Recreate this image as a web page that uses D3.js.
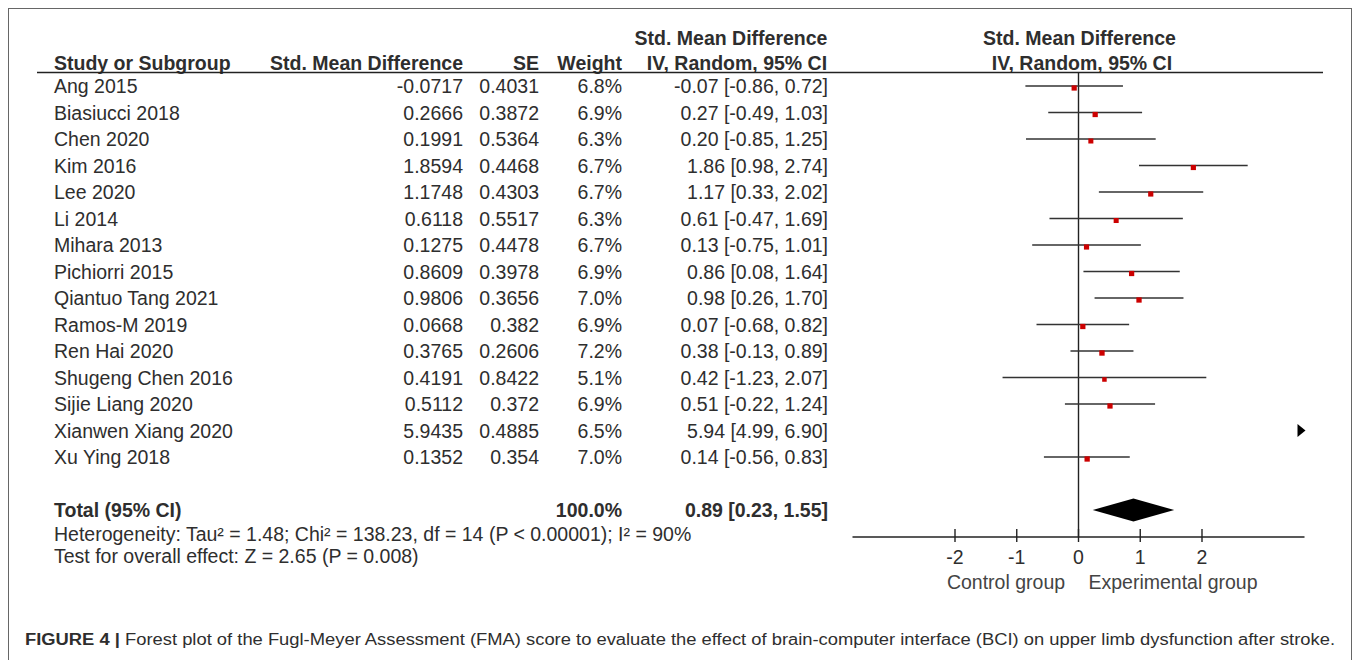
<!DOCTYPE html>
<html><head><meta charset="utf-8">
<script src="https://cdnjs.cloudflare.com/ajax/libs/d3/7.8.5/d3.min.js"></script>
<style>
html,body{margin:0;padding:0;background:#fff;}
svg{display:block;font-family:"Liberation Sans",Arial,sans-serif;}
</style></head>
<body><svg id="c" width="1357" height="660"></svg>
<script>
const studies = ["Ang 2015","Biasiucci 2018","Chen 2020","Kim 2016","Lee 2020","Li 2014","Mihara 2013","Pichiorri 2015","Qiantuo Tang 2021","Ramos-M 2019","Ren Hai 2020","Shugeng Chen 2016","Sijie Liang 2020","Xianwen Xiang 2020","Xu Ying 2018"];
const smd = [-0.0717, 0.2666, 0.1991, 1.8594, 1.1748, 0.6118, 0.1275, 0.8609, 0.9806, 0.0668, 0.3765, 0.4191, 0.5112, 5.9435, 0.1352];
const se = [0.4031, 0.3872, 0.5364, 0.4468, 0.4303, 0.5517, 0.4478, 0.3978, 0.3656, 0.382, 0.2606, 0.8422, 0.372, 0.4885, 0.354];
const weights = [6.8, 6.9, 6.3, 6.7, 6.7, 6.3, 6.7, 6.9, 7.0, 6.9, 7.2, 5.1, 6.9, 6.5, 7.0];
const est = [-0.07, 0.27, 0.20, 1.86, 1.17, 0.61, 0.13, 0.86, 0.98, 0.07, 0.38, 0.42, 0.51, 5.94, 0.14];
const lo = [-0.86, -0.49, -0.85, 0.98, 0.33, -0.47, -0.75, 0.08, 0.26, -0.68, -0.13, -1.23, -0.22, 4.99, -0.56];
const hi = [0.72, 1.03, 1.25, 2.74, 2.02, 1.69, 1.01, 1.64, 1.70, 0.82, 0.89, 2.07, 1.24, 6.90, 0.83];
const total = {weight: 100.0, est: 0.89, lo: 0.23, hi: 1.55};
const tickValues = [-2, -1, 0, 1, 2];
const headerRow1 = "Std. Mean Difference";
const headerRow2 = ["Study or Subgroup", "Std. Mean Difference", "SE", "Weight", "IV, Random, 95% CI"];
const heterogeneity = "Heterogeneity: Tau\u00b2 = 1.48; Chi\u00b2 = 138.23, df = 14 (P < 0.00001); I\u00b2 = 90%";
const overallTest = "Test for overall effect: Z = 2.65 (P = 0.008)";
const axisLabels = ["Control group", "Experimental group"];
const captionBold = "FIGURE 4 |";
const captionText = " Forest plot of the Fugl-Meyer Assessment (FMA) score to evaluate the effect of brain-computer interface (BCI) on upper limb dysfunction after stroke.";

const svg = d3.select("#c");
const ink = "#2e2e2e";
const fs = 19.5;

// frame
svg.append("rect").attr("x", 8.5).attr("y", 8.5).attr("width", 1343).attr("height", 700)
  .attr("fill", "none").attr("stroke", "#666").attr("stroke-width", 1);

const x = d3.scaleLinear().domain([-3.66, 3.66]).range([852.5, 1304.5]);
const y = d3.scalePoint().domain(studies).range([86, 457]);
const yTotal = 510, yHet = 533.5, yTest = 556, axisY = 537;
const base = 7; // baseline offset from row center

const cols = {name: 54, smd: 463, se: 539, w: 622, ci: 828};

function txt(g, t, xx, yy, anchor, bold, size) {
  return g.append("text").attr("x", xx).attr("y", yy).attr("text-anchor", anchor || "start")
    .attr("font-size", size || fs).attr("font-weight", bold ? "bold" : "normal").attr("fill", ink).text(t);
}

// headers
const H = svg.append("g");
txt(H, headerRow1, 731, 45, "middle", true);
txt(H, headerRow1, 1079.5, 45, "middle", true);
txt(H, headerRow2[0], cols.name, 70, "start", true);
txt(H, headerRow2[1], cols.smd, 70, "end", true);
txt(H, headerRow2[2], cols.se, 70, "end", true);
txt(H, headerRow2[3], cols.w, 70, "end", true);
txt(H, headerRow2[4], 737, 70, "middle", true);
txt(H, headerRow2[4], 1082, 70, "middle", true);
H.append("line").attr("x1", 37).attr("x2", 1323).attr("y1", 72.5).attr("y2", 72.5)
  .attr("stroke", "#222").attr("stroke-width", 1.3);

// table rows
const R = svg.append("g");
studies.forEach((s, i) => {
  const yy = y(s) + base;
  txt(R, s, cols.name, yy, "start");
  txt(R, String(smd[i]), cols.smd, yy, "end");
  txt(R, String(se[i]), cols.se, yy, "end");
  txt(R, weights[i].toFixed(1) + "%", cols.w, yy, "end");
  txt(R, est[i].toFixed(2) + " [" + lo[i].toFixed(2) + ", " + hi[i].toFixed(2) + "]", cols.ci, yy, "end");
});
txt(R, "Total (95% CI)", cols.name, yTotal + base, "start", true);
txt(R, total.weight.toFixed(1) + "%", cols.w, yTotal + base, "end", true);
txt(R, total.est.toFixed(2) + " [" + total.lo.toFixed(2) + ", " + total.hi.toFixed(2) + "]", cols.ci, yTotal + base, "end", true);
txt(R, heterogeneity, cols.name, yHet + base, "start");
txt(R, overallTest, cols.name, yTest + base, "start");

// plot
const P = svg.append("g");
const [dmin, dmax] = x.domain();
// zero line
P.append("line").attr("x1", x(0)).attr("x2", x(0)).attr("y1", 72).attr("y2", axisY)
  .attr("stroke", "#222").attr("stroke-width", 1.4);
studies.forEach((s, i) => {
  const yy = y(s);
  const a = Math.max(lo[i], dmin), b = Math.min(hi[i], dmax);
  if (a < b) {
    P.append("line").attr("x1", x(a)).attr("x2", x(b)).attr("y1", yy).attr("y2", yy)
      .attr("stroke", "#333").attr("stroke-width", 1.5);
  }
  if (est[i] >= dmin && est[i] <= dmax) {
    const sz = 2.0 * Math.sqrt(weights[i]);
    P.append("rect").attr("x", x(est[i]) - sz / 2).attr("y", yy + 2 - sz / 2)
      .attr("width", sz).attr("height", sz).attr("fill", "#cc0000");
  }
  if (lo[i] > dmax) {
    const ax = x(dmax) + 1;
    P.append("path").attr("d", `M${ax - 8},${yy - 6.5}L${ax},${yy}L${ax - 8},${yy + 6.5}Z`).attr("fill", "#000");
  }
});
// diamond
const dh = 11.5, dy = yTotal;
P.append("path").attr("d", `M${x(total.lo)},${dy}L${x(total.est)},${dy - dh}L${x(total.hi)},${dy}L${x(total.est)},${dy + dh}Z`)
  .attr("fill", "#000");
// axis
P.append("line").attr("x1", x(dmin)).attr("x2", x(dmax)).attr("y1", axisY).attr("y2", axisY)
  .attr("stroke", "#222").attr("stroke-width", 1.4);
tickValues.forEach(t => {
  P.append("line").attr("x1", x(t)).attr("x2", x(t)).attr("y1", axisY - 8).attr("y2", axisY + 5)
    .attr("stroke", "#222").attr("stroke-width", 1.4);
  txt(P, String(t), x(t), axisY + 27, "middle");
});
txt(P, axisLabels[0], 1006, axisY + 52, "middle").attr("fill", "#444");
txt(P, axisLabels[1], 1173, axisY + 52, "middle").attr("fill", "#444");

// caption
const C = svg.append("text").attr("x", 25).attr("y", 645).attr("font-size", 16).attr("fill", ink)
  .attr("textLength", 1310).attr("lengthAdjust", "spacingAndGlyphs");
C.append("tspan").attr("font-weight", "bold").text(captionBold);
C.append("tspan").text(captionText);
</script></body></html>
